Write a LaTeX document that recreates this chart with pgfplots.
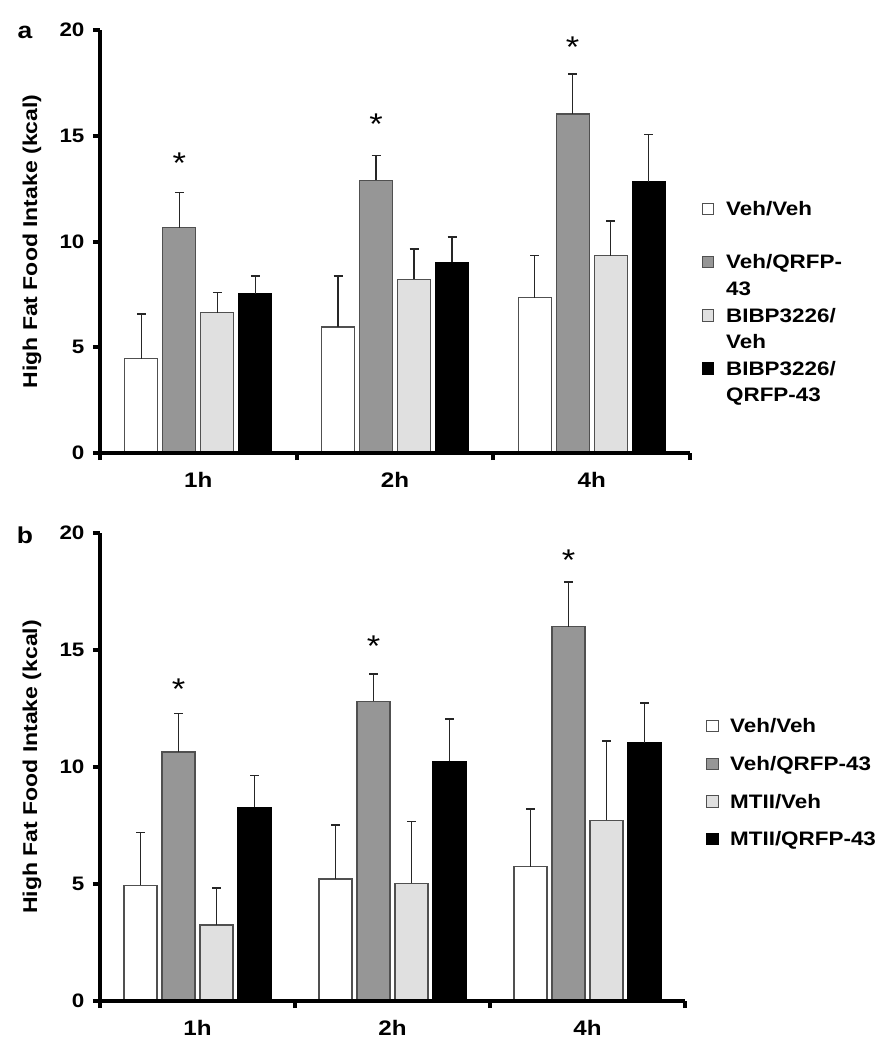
\documentclass[border=0pt]{standalone}
\usepackage{pgfplots}
\pgfplotsset{compat=1.18}
\usepackage{fontspec}
\setmainfont{Liberation Sans}[FakeStretch=1.15]
\definecolor{barA}{RGB}{150,150,150}
\definecolor{barL}{RGB}{224,224,224}
\definecolor{edge}{RGB}{80,80,80}
\pgfplotsset{
 panel/.style={
   scale only axis, clip=false, axis on top=true,
   ybar=5pt, bar width=33pt,
   xmin=-0.5, xmax=2.5, ymin=0, ymax=20,
   ytick={0,5,10,15,20},
   xtick={0,1,2}, xticklabels={1h,2h,4h},
   minor xtick={-0.5,0.5,1.5,2.5},
   axis x line*=bottom, axis y line*=left,
   axis line style={line width=4.5pt, black},
   tick align=outside,
   major tick length=7pt, minor tick length=7pt,
   every tick/.style={black, line width=4pt},
   major x tick style={draw=none},
   tick label style={font=\bfseries\fontsize{19.5}{19.5}\selectfont},
   yticklabel style={xshift=-5pt},
   xticklabel style={yshift=-9pt, font=\bfseries\fontsize{21}{21}\selectfont},
   /pgf/number format/assume math mode=true,
   ylabel={High Fat Food Intake (kcal)},
   every axis y label/.style={rotate=90, anchor=center, font=\bfseries\fontsize{20}{20}\selectfont},
   legend cell align=left,
   legend style={draw=none, fill=none, inner sep=0pt, outer sep=0pt, column sep=0pt, anchor=north west, font=\bfseries\fontsize{19.5}{19.5}\selectfont, nodes={inner sep=0pt, text height=14pt, text depth=4pt}},
 },
 sq/.style={legend image code/.code={\draw[##1, line width=1pt] (0pt,-4pt) rectangle (11.5pt,7.5pt); \path (23pt,0pt);}},
 bar/.style={line width=1.3pt, sq},
 eb/.style={error bars/.cd, y dir=plus, y explicit, error bar style={line width=1.3pt, black!85}, error mark options={rotate=90, mark size=4.5pt, line width=1.5pt, black!85}},
 star/.style={nodes near coords={*}, visualization depends on={\thisrow{s} \as \soff},
   every node near coord/.append style={anchor=north, inner sep=0pt, yshift=\soff pt, font=\fontsize{30}{30}\selectfont}},
}
\begin{document}
\begin{tikzpicture}
\useasboundingbox (0pt,0pt) rectangle (891pt,-1050pt);
% ---------- panel a ----------
\begin{axis}[panel, at={(100pt,-453pt)}, anchor=south west, width=590pt, height=423pt,
  y label style={at={(axis description cs:-0.1153,0.5)}},
  legend style={at={(axis description cs:1.0203,0.5939)}, row sep=8.6pt}]
\addplot[bar, fill=white, draw=edge, eb] table[x=x, y=y, y error=e] {
x y e
0 4.46 2.12
1 5.96 2.40
2 7.34 1.99
};
\addlegendentry{Veh/Veh}
\addlegendimage{empty legend}\addlegendentry{\mbox{}}
\addplot[bar, fill=barA, draw=edge, star, eb] table[x=x, y=y, y error=e] {
x y e s
0 10.66 1.66 75.7
1 12.89 1.17 67.0
2 16.03 1.88 78.0
};
\addlegendentry{Veh/QRFP-}
\addlegendimage{empty legend}\addlegendentry{43}
\addplot[bar, fill=barL, draw=edge, eb] table[x=x, y=y, y error=e] {
x y e
0 6.64 0.96
1 8.21 1.43
2 9.33 1.64
};
\addlegendentry{BIBP3226/}
\addlegendimage{empty legend}\addlegendentry{Veh}
\addplot[bar, fill=black, draw=black, eb] table[x=x, y=y, y error=e] {
x y e
0 7.54 0.82
1 9.01 1.20
2 12.82 2.25
};
\addlegendentry{BIBP3226/}
\addlegendimage{empty legend}\addlegendentry{QRFP-43}
\end{axis}
\node[font=\bfseries\fontsize{23}{23}\selectfont, anchor=center, inner sep=0pt] at (25pt,-32pt) {a};
% ---------- panel b ----------
\begin{axis}[panel, at={(100pt,-1001pt)}, anchor=south west, width=585pt, height=468pt,
  y label style={at={(axis description cs:-0.1162,0.5)}},
  legend style={at={(axis description cs:1.0359,0.603)}, row sep=19.7pt}]
\addplot[bar, fill=white, draw=edge, eb] table[x=x, y=y, y error=e] {
x y e
0 4.94 2.27
1 5.22 2.31
2 5.74 2.47
};
\addlegendentry{Veh/Veh}
\addplot[bar, fill=barA, draw=edge, star, eb] table[x=x, y=y, y error=e] {
x y e s
0 10.64 1.65 73.7
1 12.80 1.18 66.7
2 15.99 1.92 77.5
};
\addlegendentry{Veh/QRFP-43}
\addplot[bar, fill=barL, draw=edge, eb] table[x=x, y=y, y error=e] {
x y e
0 3.25 1.57
1 5.03 2.65
2 7.72 3.39
};
\addlegendentry{MTII/Veh}
\addplot[bar, fill=black, draw=black, eb] table[x=x, y=y, y error=e] {
x y e
0 8.28 1.35
1 10.25 1.81
2 11.04 1.70
};
\addlegendentry{MTII/QRFP-43}
\end{axis}
\node[font=\bfseries\fontsize{23}{23}\selectfont, anchor=center, inner sep=0pt] at (25pt,-535pt) {b};
\end{tikzpicture}
\end{document}
